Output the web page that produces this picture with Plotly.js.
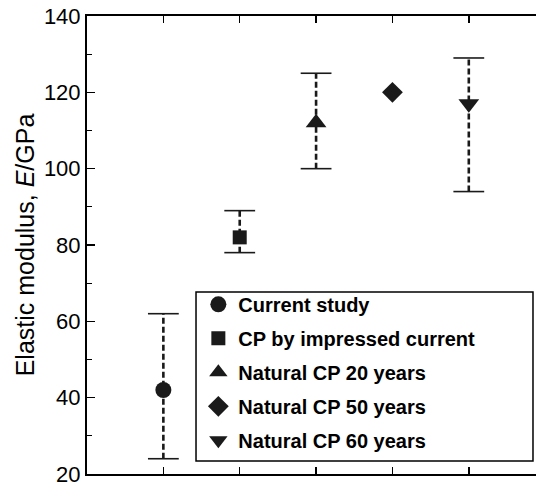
<!DOCTYPE html>
<html>
<head>
<meta charset="utf-8">
<script src="https://cdn.plot.ly/plotly-3.0.1.min.js"></script>
<style>
  html, body { margin: 0; padding: 0; background: #fff; }
  #chart { width: 536px; height: 487px; }
</style>
</head>
<body>
<div id="chart"></div>
<script>
// Elastic modulus of the steel under different cathodic-protection histories
const categories = ['Current study', 'CP by impressed current', 'Natural CP 20 years', 'Natural CP 50 years', 'Natural CP 60 years'];
const positions = [1, 2, 3, 4, 5];
const modulus = [42, 82, 112, 120, 117];
const rangeHigh = [62, 89, 125, null, 129];
const rangeLow = [24, 78, 100, null, 94];
const symbols = ['circle', 'square', 'triangle-up', 'diamond', 'triangle-down'];
const yTicks = [20, 40, 60, 80, 100, 120, 140];

const ink = '#1a1a1a';
const markerSize = { 'circle': 16, 'square': 14, 'triangle-up': 18, 'diamond': 16, 'triangle-down': 18 };
const traces = [];

// dashed whiskers spanning low..high, plus flat caps at both ends
const wx = [], wy = [], cx = [], cy = [];
positions.forEach((p, i) => {
  if (rangeHigh[i] == null) return;
  wx.push(p, p, null);
  wy.push(rangeLow[i], rangeHigh[i], null);
  cx.push(p, p);
  cy.push(rangeLow[i], rangeHigh[i]);
});
traces.push({
  x: wx, y: wy, mode: 'lines', showlegend: false, hoverinfo: 'skip',
  line: { color: ink, width: 2.6, dash: '6px,3px' }
});
traces.push({
  x: cx, y: cy, mode: 'markers', showlegend: false, hoverinfo: 'skip',
  marker: { symbol: 'line-ew', size: 22, line: { color: ink, width: 1.6 } }
});

// one marker per data set, each with its own legend entry
categories.forEach((name, i) => {
  traces.push({
    x: [positions[i]], y: [modulus[i]], name: name, mode: 'markers',
    legendgroup: 'g' + i,
    marker: { symbol: symbols[i], size: markerSize[symbols[i]], color: ink }
  });
});

const layout = {
  width: 536, height: 487,
  margin: { l: 87, r: 0, t: 16, b: 13 },
  paper_bgcolor: '#fff', plot_bgcolor: '#fff',
  font: { family: 'Liberation Sans, Arial, sans-serif', color: '#000' },
  showlegend: true,
  legend: {
    x: 0.248, y: 0.413, xanchor: 'left', yanchor: 'top',
    borderwidth: 0, bgcolor: 'rgba(0,0,0,0)',
    font: { size: 20, family: 'Liberation Sans, Arial, sans-serif', weight: 'bold', color: '#000' },
    tracegroupgap: 5
  },
  // framed box behind the legend entries
  shapes: [{
    type: 'rect', xref: 'paper', yref: 'paper', layer: 'above',
    x0: 0.2428, x1: 0.9933, y0: 0.0284, y1: 0.3974,
    line: { color: '#000', width: 1.5 }, fillcolor: 'rgba(255,255,255,0)'
  }],
  xaxis: {
    range: [0, 5.88], showgrid: false, zeroline: false,
    tickvals: positions, showticklabels: false,
    ticks: 'inside', ticklen: 7, tickwidth: 1.5, tickcolor: '#000',
    showline: true, linecolor: '#000', linewidth: 2, mirror: 'ticks'
  },
  yaxis: {
    range: [20, 140], showgrid: false, zeroline: false,
    tickvals: yTicks, ticks: 'inside', ticklen: 8, tickwidth: 1.5, tickcolor: '#000',
    minor: { dtick: 10, tick0: 0, ticks: 'inside', ticklen: 5, tickwidth: 1.2, tickcolor: '#000' },
    showline: true, linecolor: '#000', linewidth: 2,
    tickfont: { size: 22 },
    title: { text: 'Elastic modulus, <i>E</i>/GPa', font: { size: 25 }, standoff: 2 }
  }
};

Plotly.newPlot('chart', traces, layout, { displayModeBar: false, staticPlot: true });
</script>
</body>
</html>
